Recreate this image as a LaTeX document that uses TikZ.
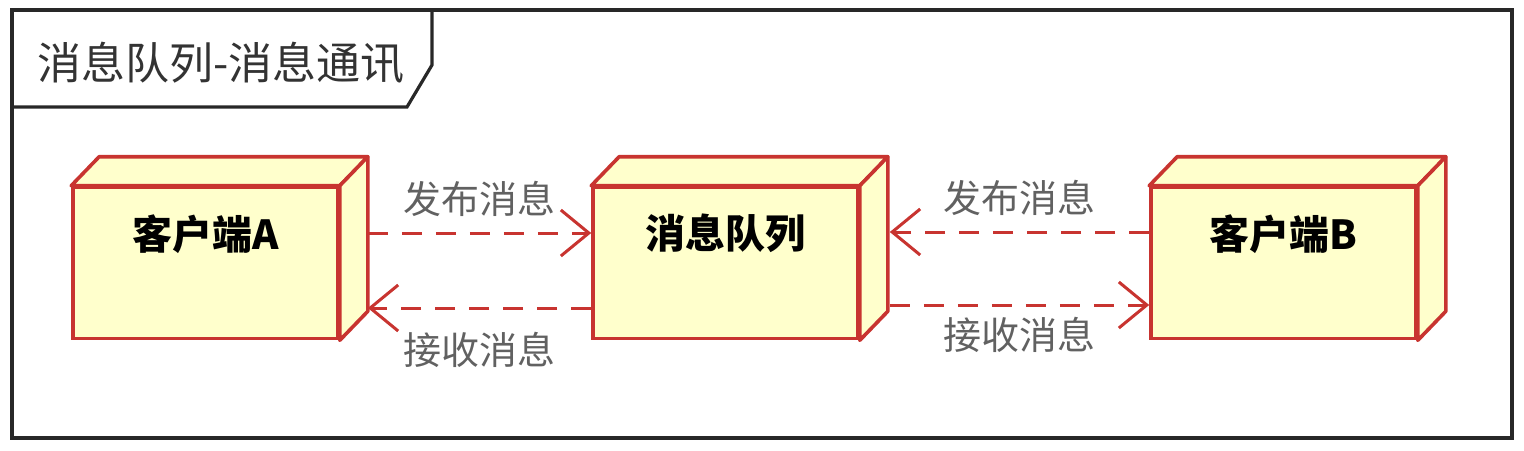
\documentclass[tikz,border=0pt]{standalone}
\usepackage{fontspec}
\newfontfamily\cjk{Noto Sans CJK SC}
\usetikzlibrary{arrows.meta,calc}
\definecolor{nodered}{RGB}{200,52,48}
\definecolor{nodefill}{RGB}{255,255,204}
\definecolor{framegray}{RGB}{40,40,40}

\begin{document}
\begin{tikzpicture}[x=0.5pt, y=-0.5pt,
  devbox/.style = {draw=nodered, fill=nodefill, line width=1.8pt,
    minimum width=132.5pt, minimum height=75.5pt, inner sep=0pt},
  devface/.style = {draw=nodered, fill=nodefill, line width=1.8pt,
    line join=round},
  devname/.style = {font=\cjk\bfseries\fontsize{20}{24}\selectfont},
  msg/.style = {font=\cjk\fontsize{19}{23}\selectfont, text=black!62},
  arr/.style = {draw=nodered, line width=1.5pt, dash pattern=on 10pt off 7pt,
    -{Straight Barb[length=14pt, width=23pt, line width=1.5pt]}}
  ]
  \useasboundingbox (0,0) rectangle (1524,450);
  % frame with its tab
  \draw [framegray, line width=1.6pt] (12,10) rectangle (1512,438);
  \draw [framegray, line width=1.6pt] (12,107) -- (407,107) -- (432,65) -- (432,10);
  \node (title) [anchor=west, font=\cjk\fontsize{22}{26}\selectfont,
    text=black!80, inner sep=0pt] at (37,63) {消息队列-消息通讯};

  % the three nodes
  \foreach \n/\x in {cla/205.5, mq/725.5, clb/1283.5} {
    \node (\n) [devbox] at (\x,263) {};
    \draw [devface] (\n.north west) -- ++(28,-29) -- ($(\n.north east)+(28,-29)$)
      -- (\n.north east) -- cycle;
    \draw [devface] (\n.north east) -- ++(28,-29) -- ($(\n.south east)+(28,-29)$)
      -- (\n.south east) -- cycle;
  }
  \node (claname) [devname] at ($(cla.north)+(0,48)$) {客户端A};
  \node (mqname)  [devname] at ($(mq.north)+(0,48)$)  {消息队列};
  \node (clbname) [devname] at ($(clb.north)+(0,48)$) {客户端B};

  % messages
  \draw [arr] ($(cla.east)+(28,-30)$) -- ($(mq.west)+(0,-30)$)
    node [msg, midway, above=4pt] {发布消息};
  \draw [arr] ($(mq.west)+(0,45)$) -- ($(cla.east)+(28,45)$)
    node [msg, midway, below=8pt] {接收消息};
  \draw [arr] ($(clb.west)+(0,-31)$) -- ($(mq.east)+(30,-31)$)
    node [msg, midway, above=4pt] {发布消息};
  \draw [arr] ($(mq.east)+(30,42)$) -- ($(clb.west)+(0,42)$)
    node [msg, midway, below=2pt] {接收消息};
\end{tikzpicture}
\end{document}
